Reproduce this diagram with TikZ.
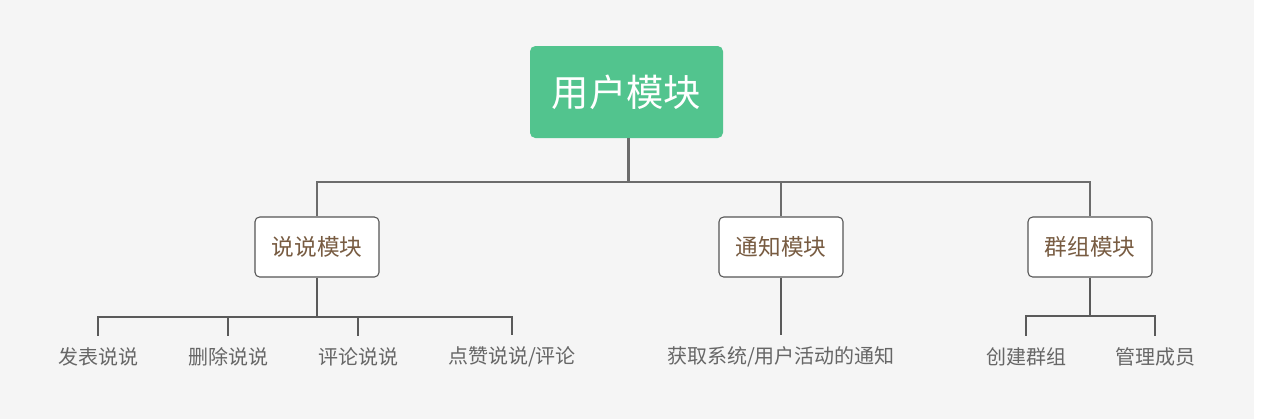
\documentclass[tikz,border=0pt]{standalone}
\usepackage{fontspec}
\setmainfont{Noto Sans CJK SC}
\usetikzlibrary{positioning}
\definecolor{colbg}{RGB}{245,245,245}
\definecolor{colroot}{RGB}{82,196,142}
\definecolor{colline}{RGB}{108,108,108}
\definecolor{colleafline}{RGB}{90,90,90}
\definecolor{colframe}{RGB}{85,85,85}
\definecolor{coltext}{RGB}{120,92,66}
\definecolor{colleaf}{RGB}{102,102,102}
\tikzset{
  % ROOT BOX
  frameRoot/.style={
    rectangle,
    rounded corners=4pt,
    fill=colroot,
    text=white,
    minimum width=144.75pt,
    minimum height=69pt,
    inner sep=0pt,
    font=\fontsize{28}{34}\selectfont
  },
  % MODULE BOXES
  frameModule/.style={
    rectangle,
    rounded corners=3.5pt,
    draw=colframe,
    line width=0.8pt,
    fill=white,
    text=coltext,
    minimum width=93pt,
    minimum height=45pt,
    inner sep=0pt,
    font=\fontsize{17}{21}\selectfont
  },
  % LEAF TEXTS
  frameLeaf/.style={
    inner sep=0pt,
    outer ysep=9pt,
    text=colleaf,
    font=\fontsize{15}{18}\selectfont
  },
  % MAIN LINES
  lineMain/.style={
    draw=colline,line width=2.2pt
  },
  lineLeaf/.style={
    draw=colleafline,line width=1.3pt
  }
}
\begin{document}
\begin{tikzpicture}[x=0.75pt,y=-0.75pt]

% Background
\fill [white] (0,0) rectangle (1262,419) ;
\fill [colbg] (0,0) rectangle (1254,419) ;
\useasboundingbox (0,0) rectangle (1262,419) ;

% Root
\node [frameRoot] (user) at (626.5,92) {用户模块} ;

% Modules
\node [frameModule] (shuoshuo) at (317,247) {说说模块} ;
\node [frameModule] (notice) at (781,247) {通知模块} ;
\node [frameModule] (group) at (1090,247) {群组模块} ;

% Leaves
\node [frameLeaf] (post) at (98,357) {发表说说} ;
\node [frameLeaf] (delete) at (228,357) {删除说说} ;
\node [frameLeaf] (comment) at (358,357) {评论说说} ;
\node [frameLeaf] (like) at (512,357) {点赞说说/评论} ;
\node [frameLeaf] (fetch) at (781,357) {获取系统/用户活动的通知} ;
\node [frameLeaf] (create) at (1026,357) {创建群组} ;
\node [frameLeaf] (manage) at (1155,357) {管理成员} ;

% Branch points
\coordinate (hub_user) at (628.5,182) ;
\coordinate (hub_shuoshuo) at (317,317) ;
\coordinate (hub_group) at (1090,316) ;

% Lines root
\path [lineMain] (user.south -| hub_user) -- (hub_user) -| (shuoshuo.north) ;
\path [lineMain] (hub_user) -| (notice.north) ;
\path [lineMain] (hub_user) -| (group.north) ;

% Lines shuoshuo
\path [lineLeaf] (shuoshuo.south) -- (hub_shuoshuo) -| (post.north) ;
\path [lineLeaf] (hub_shuoshuo) -| (delete.north) ;
\path [lineLeaf] (hub_shuoshuo) -| (comment.north) ;
\path [lineLeaf] (hub_shuoshuo) -| (like.north) ;

% Lines notice
\path [lineLeaf] (notice.south) -- (fetch.north) ;

% Lines group
\path [lineLeaf] (group.south) -- (hub_group) -| (create.north) ;
\path [lineLeaf] (hub_group) -| (manage.north) ;

\end{tikzpicture}
\end{document}
